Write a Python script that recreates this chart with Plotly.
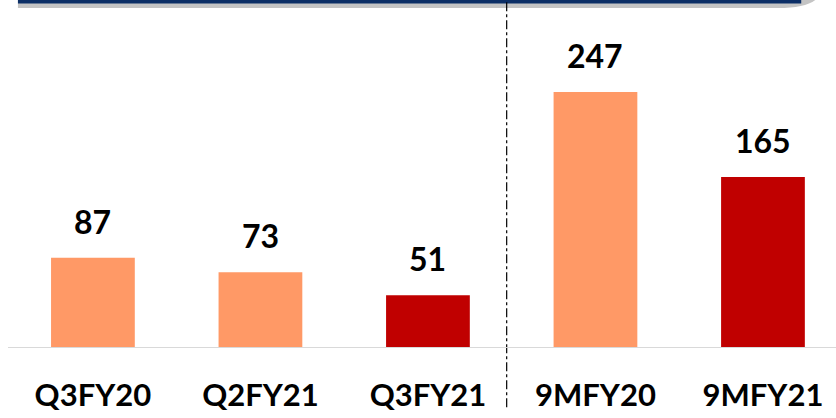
import plotly.graph_objects as go

categories = ["Q3FY20", "Q2FY21", "Q3FY21", "9MFY20", "9MFY21"]
values = [87, 73, 51, 247, 165]
colors = ["#FF9966", "#FF9966", "#C00000", "#FF9966", "#C00000"]

W, H = 836, 418
mt, mb, ml, mr = 0, 70, 8, 0
ph = H - mt - mb

fig = go.Figure()
fig.add_trace(go.Bar(x=list(range(len(categories))), y=values, marker_color=colors,
                     width=0.5, marker_line_width=0, hoverinfo="skip"))

for i, v in enumerate(values):
    fig.add_annotation(x=i, y=v, text=f"<b>{v}</b>", showarrow=False, yanchor="bottom",
                       yshift=15, font=dict(family="Lato", size=32, color="#000000"))

# top band (shadow + dark blue)
fig.add_shape(type="path", xref="paper", yref="paper",
              path=f"M 0.012 1 L 0.975 1 Q 0.962 {1-8/ph} 0.93 {1-8/ph} L 0.012 {1-8/ph} Z",
              fillcolor="#C4C4C4", line_width=0, layer="above")
fig.add_shape(type="rect", xref="paper", yref="paper", x0=0.012, x1=0.958,
              y0=1 - 3.5/ph, y1=1.01, fillcolor="#0B2E66", line_width=0, layer="above")
# separator
fig.add_shape(type="line", xref="x", yref="paper", x0=2.47, x1=2.47, y0=-0.17, y1=1,
              line=dict(color="#000000", width=1.2, dash="dashdot"))
# baseline
fig.add_shape(type="line", xref="paper", yref="y", x0=0, x1=1, y0=0, y1=0,
              line=dict(color="#D9D9D9", width=2))

fig.update_layout(
    width=W, height=H, margin=dict(l=ml, r=mr, t=mt, b=mb),
    plot_bgcolor="white", paper_bgcolor="white", showlegend=False,
    xaxis=dict(range=[-0.507, 4.436], tickvals=list(range(len(categories))),
               ticktext=[f"<b>{c}</b>" for c in categories], showgrid=False, zeroline=False,
               showline=False, ticks="", ticklabelstandoff=26,
               tickfont=dict(family="Lato", size=31, color="#000000")),
    yaxis=dict(range=[0, ph / 1.036], visible=False),
)
fig.write_html("out.html", config={"displayModeBar": False},
               post_script="document.body.style.margin='0';")
